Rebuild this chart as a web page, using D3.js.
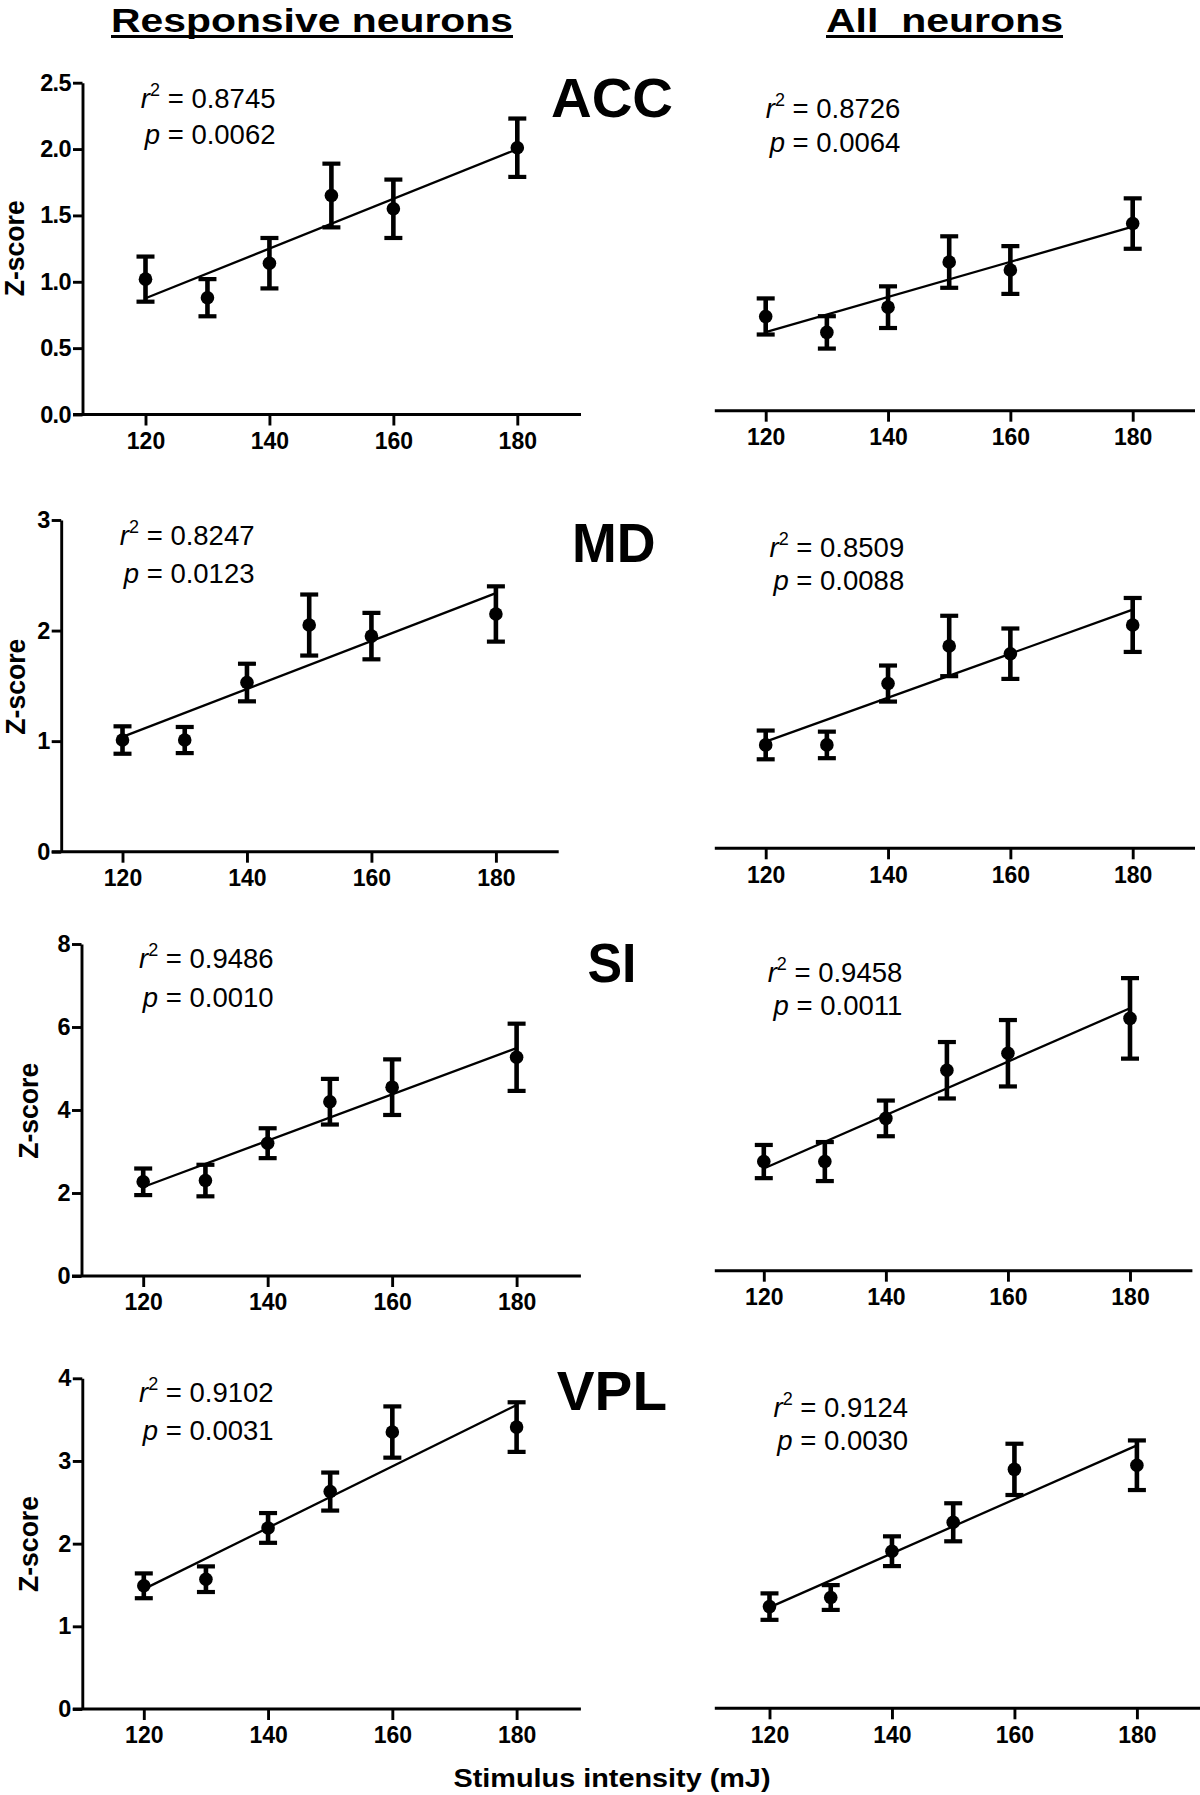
<!DOCTYPE html>
<html>
<head>
<meta charset="utf-8">
<script src="https://cdn.jsdelivr.net/npm/d3@7"></script>
<style>
  html, body { margin: 0; padding: 0; background: #fff; }
  svg { display: block; }
  text { font-family: "Liberation Sans", Arial, Helvetica, sans-serif; fill: #000; }
</style>
</head>
<body>
<svg id="chart" width="1200" height="1795"></svg>
<script>
// ---------------- DATA ----------------
const intensity = [120, 130, 140, 150, 160, 180];
const xTickValues = [120, 140, 160, 180];
const regionNames = ["ACC", "MD", "SI", "VPL"];
const columnTitles = ["Responsive neurons", "All  neurons"];
const yAxisTitle = "Z-score";
const xAxisTitle = "Stimulus intensity (mJ)";

const accRespMean = [1.02, 0.88, 1.14, 1.65, 1.55, 2.01];
const accRespSem  = [0.17, 0.14, 0.19, 0.24, 0.22, 0.22];
const accAllMean  = [0.71, 0.59, 0.78, 1.12, 1.06, 1.41];
const accAllSem   = [0.136, 0.122, 0.157, 0.194, 0.18, 0.19];

const mdRespMean  = [1.01, 1.01, 1.53, 2.05, 1.95, 2.15];
const mdRespSem   = [0.124, 0.118, 0.17, 0.276, 0.21, 0.25];
const mdAllMean   = [0.935, 0.935, 1.49, 1.83, 1.76, 2.02];
const mdAllSem    = [0.13, 0.12, 0.163, 0.273, 0.228, 0.244];

const siRespMean  = [2.27, 2.30, 3.20, 4.20, 4.55, 5.27];
const siRespSem   = [0.32, 0.38, 0.36, 0.55, 0.67, 0.81];
const siAllMean   = [2.63, 2.63, 3.67, 4.83, 5.24, 6.08];
const siAllSem    = [0.40, 0.47, 0.43, 0.68, 0.80, 0.97];

const vplRespMean = [1.49, 1.57, 2.19, 2.63, 3.35, 3.41];
const vplRespSem  = [0.15, 0.155, 0.18, 0.23, 0.31, 0.30];
const vplAllMean  = [1.23, 1.34, 1.90, 2.25, 2.89, 2.94];
const vplAllSem   = [0.16, 0.15, 0.18, 0.23, 0.31, 0.30];

const r2Resp = ["0.8745", "0.8247", "0.9486", "0.9102"];
const pResp  = ["0.0062", "0.0123", "0.0010", "0.0031"];
const r2All  = ["0.8726", "0.8509", "0.9458", "0.9124"];
const pAll   = ["0.0064", "0.0088", "0.0011", "0.0030"];

const yTicksACC = [0, 0.5, 1.0, 1.5, 2.0, 2.5];
const yTicksMD  = [0, 1, 2, 3];
const yTicksSI  = [0, 2, 4, 6, 8];
const yTicksVPL = [0, 1, 2, 3, 4];
const yMaxes = [2.5, 3, 8, 4];
const yTickFormats = [".1f", "d", "d", "d"];

// ---------------- LAYOUT (pixels) ----------------
const leftLayout = [
  {x120: 145.5, x180: 517.3, y0: 414.5, yTop: 82.7, axisX: 82.5, axisEnd: 581, zx: 23.7, zy: 248.3,
   txtRight: 275.5, txtB1: 107.5, txtB2: 143.5},
  {x120: 122.5, x180: 495.9, y0: 851.7, yTop: 520, axisX: 61.2, axisEnd: 558.7, zx: 24.5, zy: 686.7,
   txtRight: 254.5, txtB1: 545, txtB2: 583.3},
  {x120: 143.2, x180: 516.6, y0: 1276, yTop: 944, axisX: 81.5, axisEnd: 580.9, zx: 38.3, zy: 1110.8,
   txtRight: 273.6, txtB1: 968.3, txtB2: 1006.7},
  {x120: 143.8, x180: 516.6, y0: 1709, yTop: 1378.3, axisX: 82.3, axisEnd: 580.9, zx: 38.3, zy: 1544,
   txtRight: 273.6, txtB1: 1401.7, txtB2: 1440}
];
const rightLayout = [
  {x120: 765.7, x180: 1132.7, y0: 410.7, axisStart: 714.8, axisEnd: 1195, txtRight: 900.4, txtB1: 118.3, txtB2: 151.7},
  {x120: 765.7, x180: 1132.7, y0: 848.3, axisStart: 714.8, axisEnd: 1195, txtRight: 904.2, txtB1: 556.7, txtB2: 590},
  {x120: 763.8, x180: 1130.0, y0: 1270.7, axisStart: 714.8, axisEnd: 1192.4, txtRight: 902.3, txtB1: 981.7, txtB2: 1015},
  {x120: 769.5, x180: 1136.9, y0: 1708.3, axisStart: 714.8, axisEnd: 1200, txtRight: 908.1, txtB1: 1417.3, txtB2: 1450}
];
const regionLabelLayout = [
  {x: 551, w: 122, b: 116.7},
  {x: 572, w: 83.5, b: 561.7},
  {x: 587.4, w: 49, b: 981.7},
  {x: 556.8, w: 110.2, b: 1410}
];

// ---------------- BUILD ----------------
const svg = d3.select("#chart");
const yTicksAll = [yTicksACC, yTicksMD, yTicksSI, yTicksVPL];
const respMeans = [accRespMean, mdRespMean, siRespMean, vplRespMean];
const respSems  = [accRespSem, mdRespSem, siRespSem, vplRespSem];
const allMeans  = [accAllMean, mdAllMean, siAllMean, vplAllMean];
const allSems   = [accAllSem, mdAllSem, siAllSem, vplAllSem];

function linFit(xs, ys) {
  const mx = d3.mean(xs), my = d3.mean(ys);
  let sxy = 0, sxx = 0;
  xs.forEach((x, i) => { sxy += (x - mx) * (ys[i] - my); sxx += (x - mx) * (x - mx); });
  const b = sxy / sxx;
  return x => my + b * (x - mx);
}

function drawSeries(g, x, y, means, sems) {
  const pts = intensity.map((v, i) => ({x: v, m: means[i], s: sems[i]}));
  const fit = linFit(intensity, means);
  g.append("line")
    .attr("x1", x(120)).attr("y1", y(fit(120)))
    .attr("x2", x(180)).attr("y2", y(fit(180)))
    .attr("stroke", "#000").attr("stroke-width", 2.3);
  const eb = g.selectAll("g.eb").data(pts).enter().append("g").attr("class", "eb");
  eb.append("line")
    .attr("x1", d => x(d.x)).attr("x2", d => x(d.x))
    .attr("y1", d => y(d.m + d.s)).attr("y2", d => y(d.m - d.s))
    .attr("stroke", "#000").attr("stroke-width", 4.6);
  [1, -1].forEach(sg => {
    eb.append("line")
      .attr("x1", d => x(d.x) - 9).attr("x2", d => x(d.x) + 9)
      .attr("y1", d => y(d.m + sg * d.s)).attr("y2", d => y(d.m + sg * d.s))
      .attr("stroke", "#000").attr("stroke-width", 4.2);
  });
  eb.append("circle")
    .attr("cx", d => x(d.x)).attr("cy", d => y(d.m))
    .attr("r", 6.8).attr("fill", "#000");
}

function statText(right, b1, b2, r2, p) {
  const t1 = svg.append("text").attr("x", right).attr("y", b1)
    .attr("text-anchor", "end").attr("font-size", 27.5);
  t1.append("tspan").attr("font-style", "italic").text("r");
  t1.append("tspan").attr("font-size", 18).attr("dy", -12).text("2");
  t1.append("tspan").attr("dy", 12).text(" = " + r2);
  const t2 = svg.append("text").attr("x", right).attr("y", b2)
    .attr("text-anchor", "end").attr("font-size", 27.5);
  t2.append("tspan").attr("font-style", "italic").text("p");
  t2.append("tspan").text(" = " + p);
}

function xAxisDraw(g, x, y0, start, end) {
  g.append("line").attr("x1", start).attr("x2", end).attr("y1", y0).attr("y2", y0)
    .attr("stroke", "#000").attr("stroke-width", 2.9);
  const ax = g.append("g").attr("transform", `translate(0,${y0})`)
    .call(d3.axisBottom(x).tickValues(xTickValues).tickSize(11).tickSizeOuter(0).tickPadding(7));
  ax.select(".domain").remove();
  ax.selectAll(".tick line").attr("stroke", "#000").attr("stroke-width", 2.9);
  ax.selectAll(".tick text").attr("font-size", 23).attr("font-weight", "bold")
    .attr("font-family", "Liberation Sans, Arial, sans-serif").attr("fill", "#000");
}

regionNames.forEach((name, r) => {
  const L = leftLayout[r];
  const R = rightLayout[r];
  const yMax = yMaxes[r];
  const pxPerUnit = (L.y0 - L.yTop) / yMax;

  // ----- left panel -----
  const gL = svg.append("g");
  const xL = d3.scaleLinear().domain([120, 180]).range([L.x120, L.x180]);
  const yL = d3.scaleLinear().domain([0, yMax]).range([L.y0, L.yTop]);
  xAxisDraw(gL, xL, L.y0, L.axisX - 9.5, L.axisEnd);
  const yAx = gL.append("g").attr("transform", `translate(${L.axisX},0)`)
    .call(d3.axisLeft(yL).tickValues(yTicksAll[r]).tickSize(9.5).tickSizeOuter(0)
      .tickPadding(2).tickFormat(d3.format(yTickFormats[r])));
  yAx.select(".domain").attr("stroke", "#000").attr("stroke-width", 2.9);
  yAx.selectAll(".tick line").attr("stroke", "#000").attr("stroke-width", 2.9);
  yAx.selectAll(".tick text").attr("font-size", 23.5).attr("font-weight", "bold")
    .attr("font-family", "Liberation Sans, Arial, sans-serif").attr("fill", "#000")
    .attr("letter-spacing", -0.6);
  drawSeries(gL, xL, yL, respMeans[r], respSems[r]);

  svg.append("text")
    .attr("transform", `translate(${L.zx},${L.zy}) rotate(-90)`)
    .attr("text-anchor", "middle").attr("font-size", 27).attr("font-weight", "bold")
    .attr("textLength", 96).attr("lengthAdjust", "spacingAndGlyphs")
    .text(yAxisTitle);

  statText(L.txtRight, L.txtB1, L.txtB2, r2Resp[r], pResp[r]);

  // ----- right panel -----
  const gR = svg.append("g");
  const xR = d3.scaleLinear().domain([120, 180]).range([R.x120, R.x180]);
  const yR = d3.scaleLinear().domain([0, yMax]).range([R.y0, R.y0 - pxPerUnit * yMax]);
  xAxisDraw(gR, xR, R.y0, R.axisStart, R.axisEnd);
  drawSeries(gR, xR, yR, allMeans[r], allSems[r]);
  statText(R.txtRight, R.txtB1, R.txtB2, r2All[r], pAll[r]);

  // ----- region label -----
  const RL = regionLabelLayout[r];
  svg.append("text").attr("x", RL.x).attr("y", RL.b)
    .attr("font-size", 56).attr("font-weight", "bold")
    .attr("textLength", RL.w).attr("lengthAdjust", "spacingAndGlyphs")
    .text(name);
});

// column titles
const titleSpec = [{x: 111, w: 402}, {x: 826, w: 237}];
columnTitles.forEach((t, i) => {
  svg.append("text").attr("x", titleSpec[i].x).attr("y", 31.5)
    .attr("font-size", 33).attr("font-weight", "bold")
    .style("white-space", "pre")
    .attr("textLength", titleSpec[i].w).attr("lengthAdjust", "spacingAndGlyphs")
    .text(t);
  svg.append("line").attr("x1", titleSpec[i].x).attr("x2", titleSpec[i].x + titleSpec[i].w)
    .attr("y1", 36.5).attr("y2", 36.5).attr("stroke", "#000").attr("stroke-width", 2.8);
});

// x axis title
svg.append("text").attr("x", 453.5).attr("y", 1787)
  .attr("font-size", 26).attr("font-weight", "bold")
  .attr("textLength", 317).attr("lengthAdjust", "spacingAndGlyphs")
  .text(xAxisTitle);
</script>
</body>
</html>
